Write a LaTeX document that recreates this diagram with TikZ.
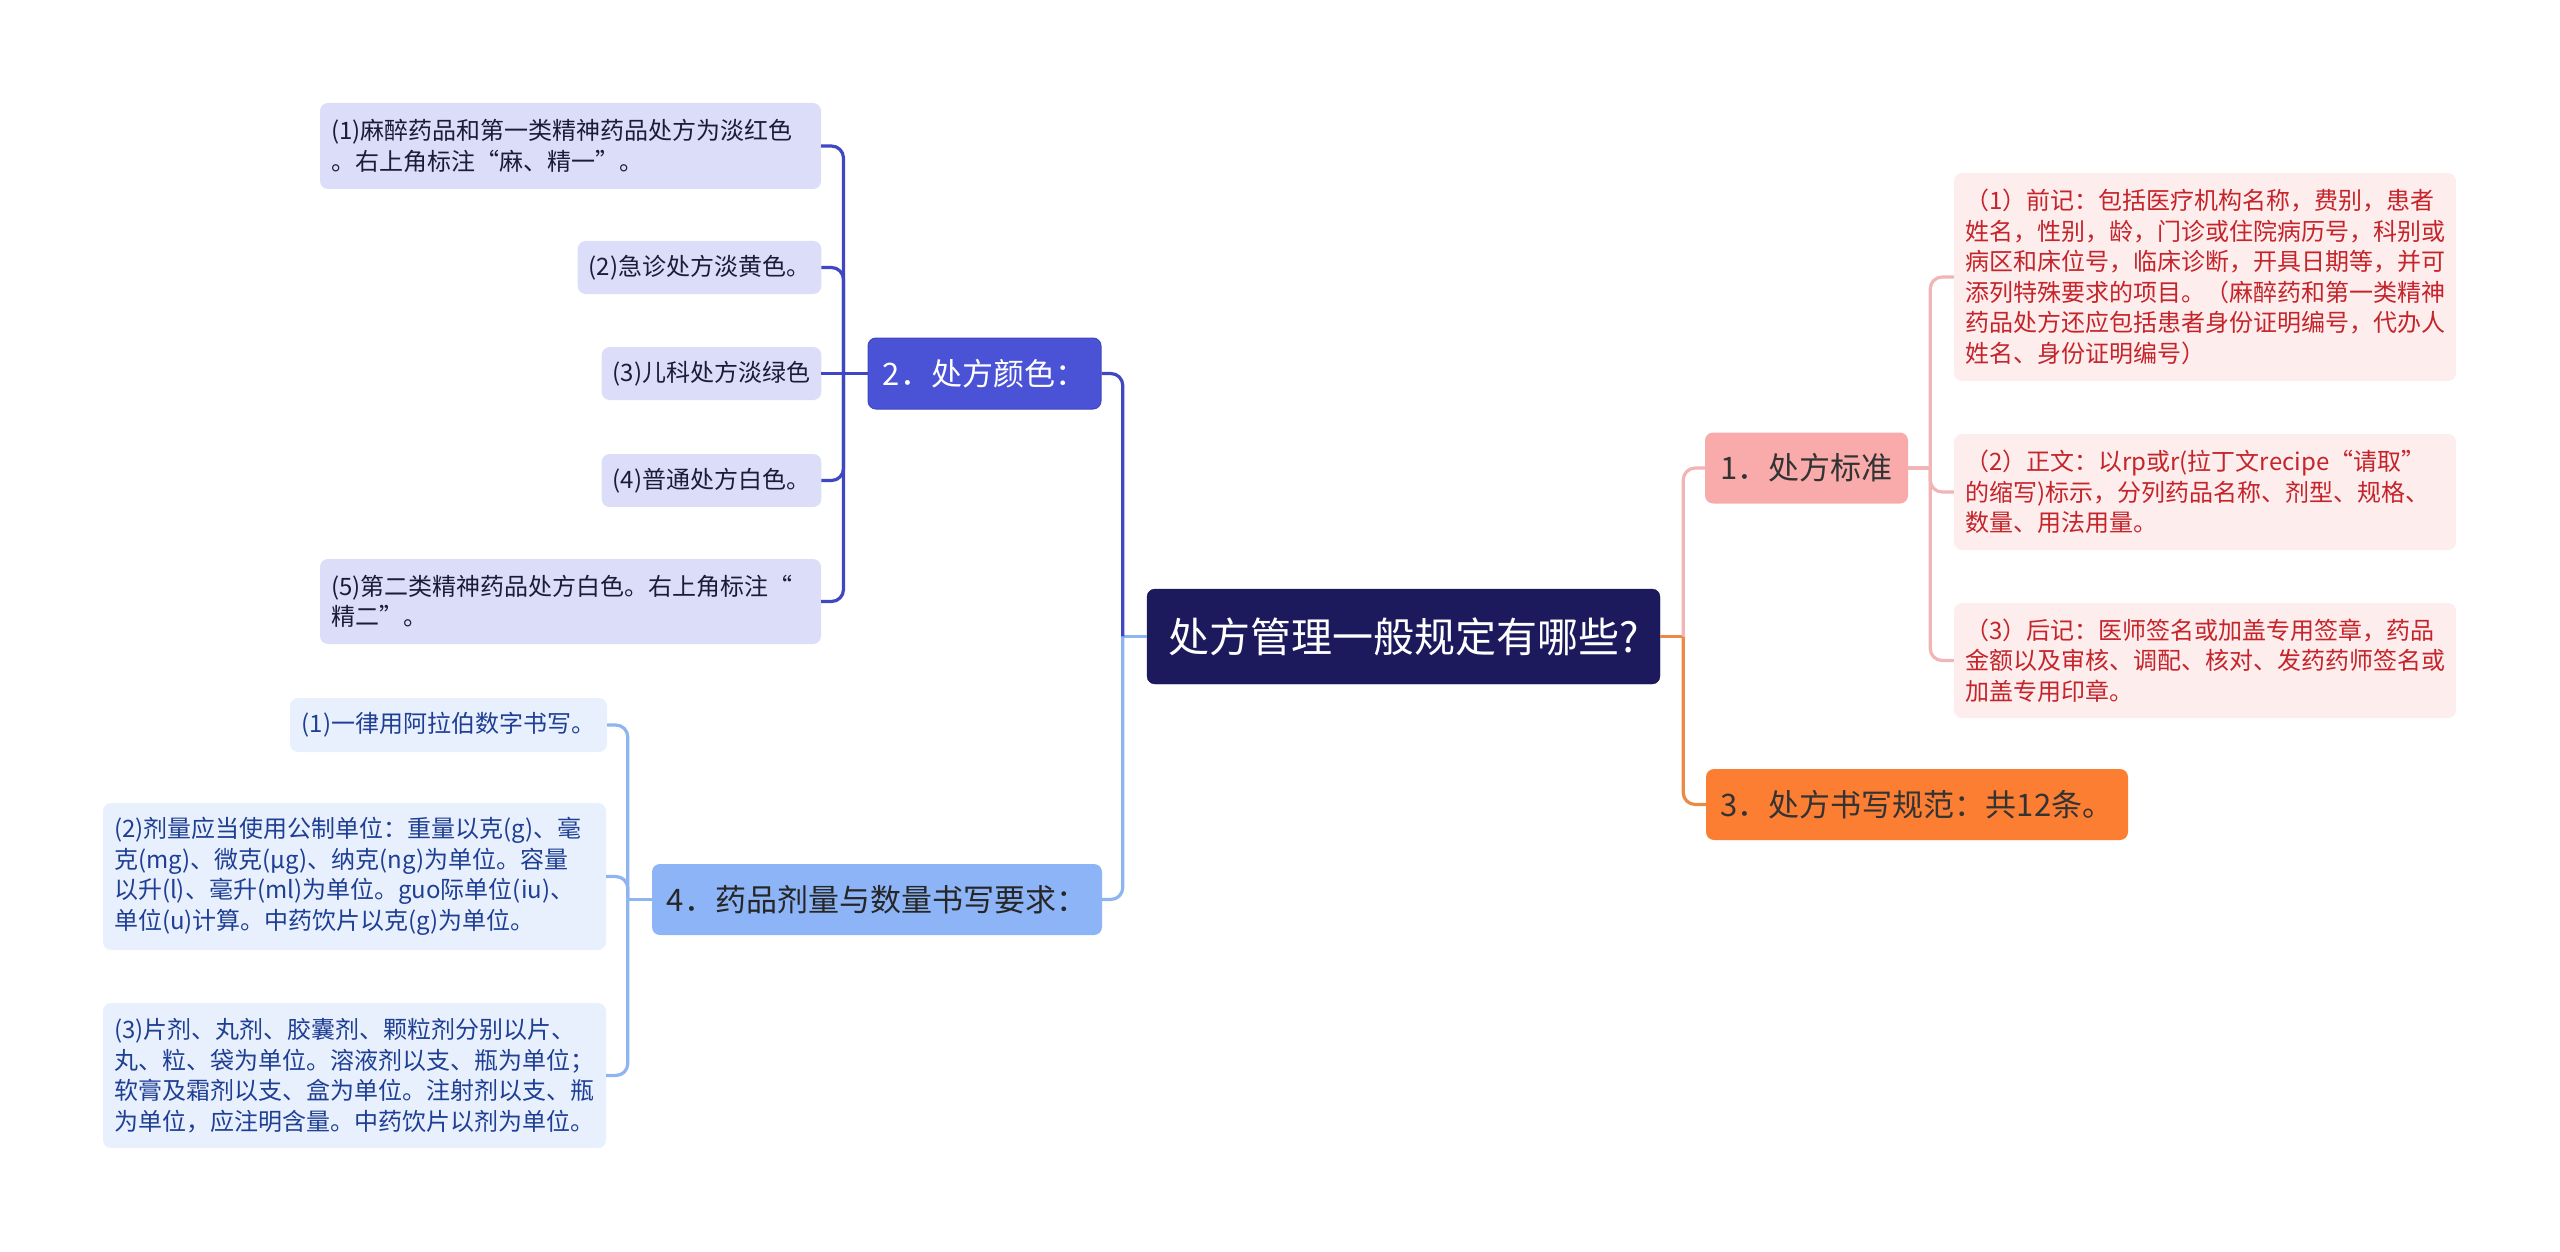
\documentclass[tikz,border=0pt]{standalone}
\usepackage{fontspec}
\setmainfont{Noto Sans CJK SC}

\definecolor{rootfill}{HTML}{1C1A5C}
\definecolor{purpfill}{HTML}{4A52D6}
\definecolor{purpline}{HTML}{3F47C2}
\definecolor{purpleaf}{HTML}{DCDDF8}
\definecolor{purptext}{HTML}{1C1C3A}
\definecolor{bluefill}{HTML}{8CB4F6}
\definecolor{blueline}{HTML}{8EB5F2}
\definecolor{blueleaf}{HTML}{E9F0FD}
\definecolor{bluetext}{HTML}{1E3F94}
\definecolor{pinkfill}{HTML}{F9ABAB}
\definecolor{pinkline}{HTML}{F2B4B4}
\definecolor{pinkleaf}{HTML}{FDEDED}
\definecolor{pinktext}{HTML}{C4242A}
\definecolor{orngfill}{HTML}{FB7E33}
\definecolor{orngline}{HTML}{EA8A45}

\begin{document}
\begin{tikzpicture}[x=1pt,y=-1pt,
    pill/.style={rounded corners=8pt,inner sep=0pt},
    rootbox/.style={pill,fill=rootfill,draw=rootfill!80!black,text=white,font=\fontsize{41}{49}\selectfont,
        minimum width=513,minimum height=95},
    topic/.style={pill,font=\fontsize{31}{37}\selectfont,minimum height=71},
    leaf/.style={pill,inner xsep=11pt,align=left,font=\fontsize{24}{30.5}\selectfont},
    link/.style={line width=3.2pt,rounded corners=12pt}]
    \useasboundingbox (0,0) rectangle (2560,1252);

    % central topic
    \node[rootbox] (root) at (1403.5,636.5) {处方管理一般规定有哪些?};

    % main branches
    \node[topic,fill=pinkfill,text=black!80,minimum width=203] (std) at (1806.5,468) {1．处方标准};
    \node[topic,fill=purpfill,draw=purpline,line width=1pt,text=white,minimum width=233] (color) at (984.5,373.5) {2．处方颜色：};
    \node[topic,fill=orngfill,text=black!80,minimum width=422] (rule) at (1917,804.5) {3．处方书写规范：共12条。};
    \node[topic,fill=bluefill,text=black!85,minimum width=450] (dose) at (877,899.5) {4．药品剂量与数量书写要求：};

    % leaves of 1
    \node[leaf,fill=pinkleaf,text=pinktext,text width=480,minimum height=208] (std1) at (2205,277)
        {（1）前记：包括医疗机构名称，费别，患者\\姓名，性别，龄，门诊或住院病历号，科别或\\病区和床位号，临床诊断，开具日期等，并可\\添列特殊要求的项目。（麻醉药和第一类精神\\药品处方还应包括患者身份证明编号，代办人\\姓名、身份证明编号）};
    \node[leaf,fill=pinkleaf,text=pinktext,text width=480,minimum height=116] (std2) at (2205,492)
        {（2）正文：以rp或r(拉丁文recipe“请取”\\的缩写)标示，分列药品名称、剂型、规格、\\数量、用法用量。};
    \node[leaf,fill=pinkleaf,text=pinktext,text width=480,minimum height=115] (std3) at (2205,660.5)
        {（3）后记：医师签名或加盖专用签章，药品\\金额以及审核、调配、核对、发药药师签名或\\加盖专用印章。};

    % leaves of 2
    \node[leaf,fill=purpleaf,text=purptext,text width=479,minimum height=86] (col1) at (570.5,146)
        {(1)麻醉药品和第一类精神药品处方为淡红色\\。右上角标注“麻、精一”。};
    \node[leaf,fill=purpleaf,text=purptext,minimum width=243,minimum height=53] (col2) at (699.5,267.5) {(2)急诊处方淡黄色。};
    \node[leaf,fill=purpleaf,text=purptext,minimum width=219,minimum height=53] (col3) at (711.5,373.5) {(3)儿科处方淡绿色};
    \node[leaf,fill=purpleaf,text=purptext,minimum width=219,minimum height=53] (col4) at (711.5,480.5) {(4)普通处方白色。};
    \node[leaf,fill=purpleaf,text=purptext,text width=479,minimum height=85] (col5) at (570.5,601.5)
        {(5)第二类精神药品处方白色。右上角标注“\\精二”。};

    % leaves of 4
    \node[leaf,fill=blueleaf,text=bluetext,minimum width=317,minimum height=54] (dose1) at (448.5,725) {(1)一律用阿拉伯数字书写。};
    \node[leaf,fill=blueleaf,text=bluetext,text width=481,minimum height=147] (dose2) at (354.5,876.5)
        {(2)剂量应当使用公制单位：重量以克(g)、毫\\克(mg)、微克(μg)、纳克(ng)为单位。容量\\以升(l)、毫升(ml)为单位。guo际单位(iu)、\\单位(u)计算。中药饮片以克(g)为单位。};
    \node[leaf,fill=blueleaf,text=bluetext,text width=481,minimum height=145] (dose3) at (354.5,1075.5)
        {(3)片剂、丸剂、胶囊剂、颗粒剂分别以片、\\丸、粒、袋为单位。溶液剂以支、瓶为单位；\\软膏及霜剂以支、盒为单位。注射剂以支、瓶\\为单位，应注明含量。中药饮片以剂为单位。};

    % joints
    \coordinate (jr) at ([xshift=23pt]root.east);
    \coordinate (jl) at ([xshift=-24pt]root.west);
    \coordinate (j1) at ([xshift=22pt]std.east);
    \coordinate (j2) at ([xshift=-24pt]color.west);
    \coordinate (j4) at ([xshift=-24pt]dose.west);

    % root links
    \draw[link,orngline] (root.east) -- (jr);
    \draw[link,pinkline] (jr) |- (std.west);
    \draw[link,orngline] (jr) |- (rule.west);
    \draw[link,blueline] (root.west) -- (jl);
    \draw[link,purpline] (jl) |- (color.east);
    \draw[link,blueline] (jl) |- (dose.east);

    % links of 1
    \draw[link,pinkline] (std.east) -- (j1);
    \foreach \leafname in {std1,std2,std3}
        \draw[link,pinkline] (j1) |- (\leafname.west);

    % links of 2
    \draw[link,purpline] (color.west) -- (col3.east);
    \foreach \leafname in {col1,col2,col4,col5}
        \draw[link,purpline] (j2) |- (\leafname.east);

    % links of 4
    \draw[link,blueline] (dose.west) -- (j4);
    \foreach \leafname in {dose1,dose2,dose3}
        \draw[link,blueline] (j4) |- (\leafname.east);
\end{tikzpicture}
\end{document}
